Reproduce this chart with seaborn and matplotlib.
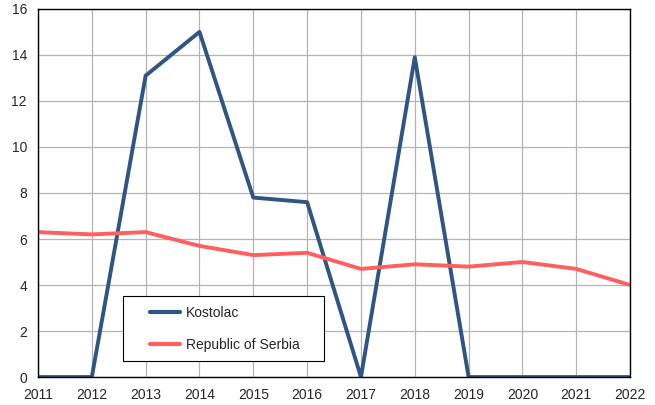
import numpy as np
import pandas as pd
import matplotlib
matplotlib.use("Agg")
import matplotlib.pyplot as plt
import matplotlib.patches as mpatches
import seaborn as sns

years = [2011, 2012, 2013, 2014, 2015, 2016, 2017, 2018, 2019, 2020, 2021, 2022]
kostolac = [0, 0, 13.1, 15.0, 7.8, 7.6, 0, 13.9, 0, 0, 0, 0]
serbia = [6.3, 6.2, 6.3, 5.7, 5.3, 5.4, 4.7, 4.9, 4.8, 5.0, 4.7, 4.0]

df = pd.DataFrame({"Year": years, "Kostolac": kostolac, "Republic of Serbia": serbia})
df = df.melt(id_vars="Year", var_name="Series", value_name="Value")

sns.set_style("white")
plt.rcParams["font.family"] = ["Liberation Sans", "DejaVu Sans"]

fig = plt.figure(figsize=(6.55, 4.05), dpi=100)
ax = fig.add_axes([0.058, 0.069, 0.904, 0.909])

sns.lineplot(data=df, x="Year", y="Value", hue="Series",
             palette=["#2F5584", "#FF5F5F"], linewidth=2.8, ax=ax)

ax.set_xlim(2011, 2022)
ax.set_ylim(0, 16)
ax.set_xticks(years)
ax.set_yticks(range(0, 17, 2))
ax.grid(True, color="#B4B4B4", linewidth=0.9)
ax.set_axisbelow(True)
ax.set_xlabel("")
ax.set_ylabel("")
ax.tick_params(labelsize=10, length=0, pad=8)
for s in ax.spines.values():
    s.set_color("black")
    s.set_linewidth(1)

# legend box drawn separately so its size matches the original
box = mpatches.Rectangle((0.1436, 0.0435), 0.3394, 0.1766, transform=ax.transAxes,
                         facecolor="white", edgecolor="black", linewidth=0.8, zorder=4)
ax.add_patch(box)
leg = ax.legend(loc="center left", bbox_to_anchor=(0.19, 0.1304), fontsize=10,
                frameon=False, labelspacing=1.3, handlelength=2.1,
                handletextpad=0.45, borderaxespad=0, borderpad=0)
leg.set_zorder(5)
for line in leg.get_lines():
    line.set_linewidth(3)

fig.savefig("out.png", dpi=100)
